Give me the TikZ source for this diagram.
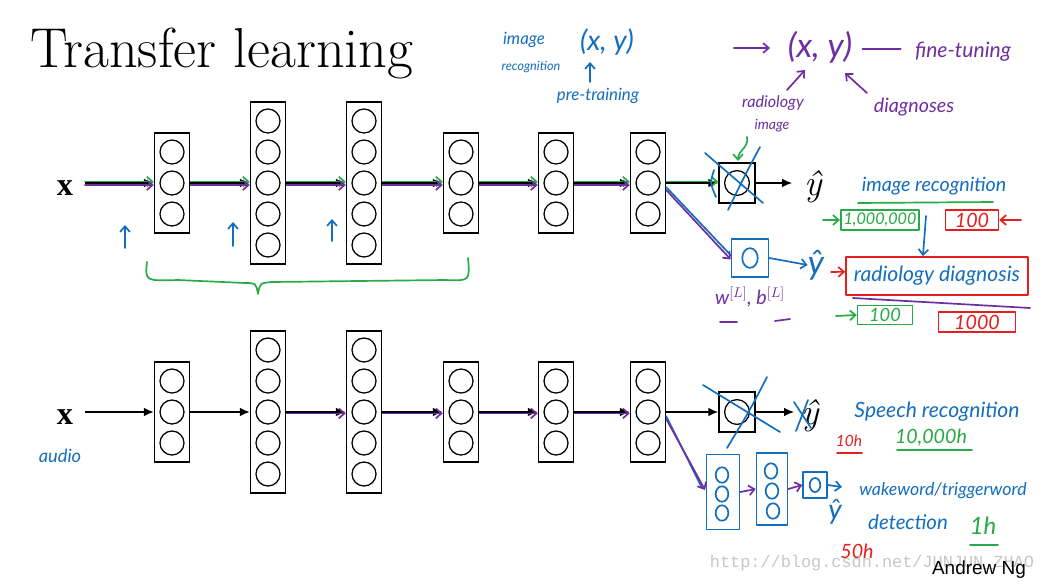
\documentclass[tikz,border=0pt]{standalone}
\usepackage{fontspec}
\newfontfamily\hand{Lato}
\newfontfamily\timesf{Liberation Serif}
\newfontfamily\arialf{Liberation Sans}
\newfontfamily\monof{Liberation Mono}
\usetikzlibrary{arrows.meta,calc}
\definecolor{hblue}{RGB}{20,110,190}
\definecolor{hgreen}{RGB}{40,170,70}
\definecolor{hpurple}{RGB}{110,45,160}
\definecolor{hred}{RGB}{230,30,30}
\tikzset{
  lbox/.style={draw=black, line width=1.1pt, minimum width=0.875cm, inner sep=0pt},
  neuron/.style={circle, draw=black, line width=0.9pt, minimum size=0.6cm, inner sep=0pt},
  obox/.style={draw=black, line width=1.1pt, minimum width=0.9cm, minimum height=1cm, inner sep=0pt},
  blk/.style={-{Latex[length=7pt,width=6pt]}, line width=0.8pt},
  ink/.style={line width=1.2pt, line cap=round, line join=round},
  inka/.style={ink, -{Straight Barb[length=4pt,width=7pt]}},
  hs/.style={font=\hand\itshape\fontsize{#1}{#1}\selectfont, inner sep=0pt},
  hbox/.style={draw=#1, ink, inner sep=2pt},
  yhat/.style={inner sep=0pt, font=\itshape\fontsize{26}{26}\selectfont},
}
\newcommand{\netlayer}[4]{%
  \node[lbox, minimum height={#4*0.775cm+0.175cm}] (#1) at (#2,#3) {};
  \foreach \k in {1,...,#4}{\node[neuron] (#1-\k) at (#2,{#3+(\k-(#4+1)/2)*31}) {};}
}
\begin{document}
\begin{tikzpicture}[x=0.025cm,y=-0.025cm]
\useasboundingbox[fill=white] (0,0) rectangle (1043,585);

% title
\node[anchor=base west, inner sep=0pt, font=\fontsize{40}{40}\selectfont] (title) at (30,67) {Transfer learning};

% ---------- top network ----------
\node[font=\timesf\bfseries\fontsize{23}{23}\selectfont, inner sep=0pt] (tx) at (65,188) {x};
\coordinate (tx0) at (85,183);
\netlayer{t1}{172}{183}{3}
\netlayer{t2}{268}{183}{5}
\netlayer{t3}{364}{183}{5}
\netlayer{t4}{461}{183}{3}
\netlayer{t5}{556}{183}{3}
\netlayer{t6}{648}{183}{3}
\node[obox] (tout) at (737,183) {};
\node[neuron, minimum size=0.62cm] (toutc) at (tout) {};
\node[yhat] (ty) at (813,187) {ŷ};
\coordinate (tye) at (792,183);

\draw[blk] (tx0) -- (t1.west);
\draw[blk] (t1.east) -- (t2.west);
\draw[blk] (t2.east) -- (t3.west);
\draw[blk] (t3.east) -- (t4.west);
\draw[blk] (t4.east) -- (t5.west);
\draw[blk] (t5.east) -- (t6.west);
\draw[blk] (t6.east) -- (tout.west);
\draw[blk] (tout.east) -- (tye);

\foreach \a/\b in {tx0/t1, t1/t2, t2/t3, t3/t4, t4/t5, t5/t6}{
  \draw[inka, hgreen] ([yshift=1pt]\a.east) -- ([yshift=1pt]\b.west);
  \draw[inka, hpurple] ([yshift=-1.5pt]\a.east) -- ([yshift=-1.5pt]\b.west);
}
\draw[inka, hgreen] ([yshift=1pt]t6.east) -- ([yshift=1pt]tout.west);

% blue up arrows and green brace
\coordinate (ua1) at (125,248); \coordinate (ub1) at (125,225);
\coordinate (ua2) at (233,246); \coordinate (ub2) at (233,222);
\coordinate (ua3) at (332,241); \coordinate (ub3) at (332,219);
\draw[inka, hblue] (ua1) -- (ub1);
\draw[inka, hblue] (ua2) -- (ub2);
\draw[inka, hblue] (ua3) -- (ub3);
\draw[ink, hgreen] (147,262) .. controls (145,281) .. (178,280) -- (245,283)
  .. controls (256,283) .. (258,294) .. controls (260,283) .. (272,282)
  -- (445,280) .. controls (470,281) .. (468,258);

% crossing out of the top output box
\draw[ink, hblue] (705,153) -- (763,203);
\draw[ink, hblue] (760,147) .. controls (745,175) .. (728,210);
\draw[ink, hblue] (714,170) .. controls (710,183) .. (716,197);
\draw[inka, hgreen] (747,137) .. controls (749,148) and (738,150) .. (738,161);

% new output layer (top)
\node[hbox=hblue, minimum width=0.925cm, minimum height=0.95cm] (tb) at (750,258) {};
\draw[ink, hblue] (tb.center) ellipse (5.5pt and 7pt);
\draw[ink, hblue] ([yshift=-3pt]t6.east) -- ([yshift=2pt]tb.west);
\draw[inka, hpurple] ([yshift=-5pt]t6.east) -- ([yshift=-1pt]tb.west);
\node[hs=24, text=hblue] (tyb) at (816,265) {ŷ};
\draw[inka, hblue] (tb.east) -- (tyb.west);
\node[hs=14, text=hpurple] (wl) at (750,297) {w$^{[L]}$, b$^{[L]}$};
\draw[ink, hpurple] (720,322) -- (737,322);
\draw[ink, hpurple] (775,321) -- (790,319);

% annotations at the top
\node[hs=12, text=hblue] (img1) at (524,40) {image};
\node[hs=9, text=hblue] (rec1) at (531,67) {recognition};
\node[hs=20, text=hblue] (xy1) at (607,42) {(x, y)};
\node[hs=12, text=hblue] (pre) at (598,96) {pre-training};
\coordinate (pa) at (590,82);
\coordinate (pb) at (590,62);
\draw[inka, hblue] (pa) -- (pb);

\coordinate (pa0) at (734,48);
\coordinate (pa1) at (770,48);
\node[hs=24, text=hpurple] (xy2) at (820,47) {(x, y)};
\draw[inka, hpurple] (pa0) -- (pa1);
\node[hs=15, text=hpurple] (ft) at (963,52) {fine-tuning};
\draw[ink, hpurple] ($(xy2.east)+(10,2)$) -- ($(ft.west)+(-14,-3)$);
\node[hs=11.5, text=hpurple] (rad) at (773,103) {radiology};
\node[hs=10, text=hpurple] (img2) at (772,126) {image};
\node[hs=14, text=hpurple] (diag) at (914,107) {diagnoses};
\draw[inka, hpurple] (787,90) -- (805,70);
\draw[inka, hpurple] (867,93) -- (845,73);

% image recognition / radiology block
\node[hs=14, text=hblue] (irec) at (934,186) {image recognition};
\draw[ink, hgreen] (858,203) -- (993,202);
\node[hbox=hgreen, text=hgreen, font=\hand\itshape\fontsize{11.5}{11.5}\selectfont, minimum width=1.85cm, minimum height=0.47cm] (g1m) at (880,220) {1,000,000};
\node[hbox=hred, text=hred, font=\hand\itshape\fontsize{14}{14}\selectfont, minimum width=1.32cm, minimum height=0.5cm] (r100) at (972,220) {100};
\coordinate (ga1) at (823,220);
\draw[inka, hgreen] (ga1) -- (g1m.west);
\coordinate (ra1) at (1021,220);
\draw[inka, hred] (ra1) -- (r100.east);
\node[hbox=hred, text=hblue, font=\hand\itshape\fontsize{15}{15}\selectfont, minimum width=4.55cm, minimum height=0.95cm] (rd) at (937,276) {radiology diagnosis};
\coordinate (da) at (926,216);
\draw[inka, hblue] (da) -- ([xshift=-10pt]rd.north);
\coordinate (ra2) at (831,272);
\draw[inka, hred] (ra2) -- ([yshift=3pt]rd.west);
\draw[ink, hpurple] (853,298) -- (1030,308);
\node[hbox=hgreen, text=hgreen, font=\hand\itshape\fontsize{13}{13}\selectfont, minimum width=1.37cm, minimum height=0.42cm] (g100) at (885,315) {100};
\coordinate (ga2) at (836,316);
\draw[inka, hgreen] (ga2) -- (g100.west);
\node[hbox=hred, text=hred, font=\hand\itshape\fontsize{14}{14}\selectfont, minimum width=1.92cm, minimum height=0.45cm] (r1000) at (977,322) {1000};

% ---------- bottom network ----------
\node[font=\timesf\bfseries\fontsize{23}{23}\selectfont, inner sep=0pt] (bx) at (65,417) {x};
\node[hs=13, text=hblue] (aud) at (60,456) {audio};
\coordinate (bx0) at (85,412);
\netlayer{b1}{172}{412}{3}
\netlayer{b2}{268}{412}{5}
\netlayer{b3}{364}{412}{5}
\netlayer{b4}{461}{412}{3}
\netlayer{b5}{556}{412}{3}
\netlayer{b6}{648}{412}{3}
\node[obox] (bout) at (737,412) {};
\node[neuron, minimum size=0.62cm] (boutc) at (bout) {};
\node[yhat] (by) at (810,416) {ŷ};
\coordinate (bye) at (794,412);

\draw[blk] (bx0) -- (b1.west);
\draw[blk] (b1.east) -- (b2.west);
\draw[blk] (b2.east) -- (b3.west);
\draw[blk] (b3.east) -- (b4.west);
\draw[blk] (b4.east) -- (b5.west);
\draw[blk] (b5.east) -- (b6.west);
\draw[blk] (b6.east) -- (bout.west);
\draw[blk] (bout.east) -- (bye);
\foreach \a/\b in {b2/b3, b3/b4, b4/b5, b5/b6}{
  \draw[inka, hpurple] ([yshift=-1pt]\a.east) -- ([yshift=-1pt]\b.west);
}

% crossing out (bottom)
\draw[ink, hblue] (703,385) -- (780,432);
\draw[ink, hblue] (767,377) .. controls (750,410) .. (727,448);
\draw[ink, hblue] (794,402) -- (811,428);
\draw[ink, hblue] (808,400) -- (796,431);

% new small network (bottom)
\node[hbox=hblue, minimum width=0.825cm, minimum height=1.875cm] (ba) at (723,492) {};
\node[hbox=hblue, minimum width=0.775cm, minimum height=1.8cm] (bb) at (772,489) {};
\node[hbox=hblue, minimum width=0.6cm, minimum height=0.65cm] (bc) at (815,485) {};
\foreach \yy in {475,494,513}{\draw[ink, hblue] (722,\yy) ellipse (4.5pt and 5.5pt);}
\foreach \xx/\yy in {771/471,772/491,773/511}{\draw[ink, hblue] (\xx,\yy) ellipse (4.5pt and 5.5pt);}
\draw[ink, hblue] (bc.center) ellipse (3.8pt and 5pt);
\draw[ink, hblue] ([yshift=-3pt]b6.east) -- (702,488);
\draw[inka, hpurple] ([yshift=-5pt]b6.east) -- (705,490);
\draw[inka, hpurple] (ba.east) -- (bb.west);
\draw[inka, hpurple] (bb.east) -- (bc.west);
\coordinate (bya) at (842,487);
\draw[inka, hblue] (bc.east) -- (bya);
\node[hs=20, text=hblue] (byb) at (835,512) {ŷ};

% speech / wakeword text
\node[hs=15, text=hblue] (sp) at (937,412) {Speech recognition};
\node[hs=11, text=hred] (h10) at (849,441) {10h};
\draw[ink, hred] (837,453) -- (862,453);
\node[hs=14, text=hgreen] (h10k) at (931,438) {10,000h};
\draw[ink, hgreen] (897,450) -- (972,450);
\node[hs=12.6, text=hblue] (ww) at (943,491) {wakeword/triggerword};
\node[hs=14.5, text=hblue] (det) at (908,522) {detection};
\node[hs=17, text=hgreen] (h1) at (983,526) {1h};
\draw[ink, hgreen] (970,545) -- (998,545);
\node[hs=14, text=hred] (h50) at (857,551) {50h};

% watermark and credit
\node[font=\monof\fontsize{12}{12}\selectfont, text=black!22, inner sep=0pt] (wm) at (872,563) {http://blog.csdn.net/JUNJUN\_ZHAO};
\node[font=\arialf\fontsize{13.5}{13.5}\selectfont, inner sep=0pt] (ng) at (979,570) {Andrew Ng};
\end{tikzpicture}
\end{document}
